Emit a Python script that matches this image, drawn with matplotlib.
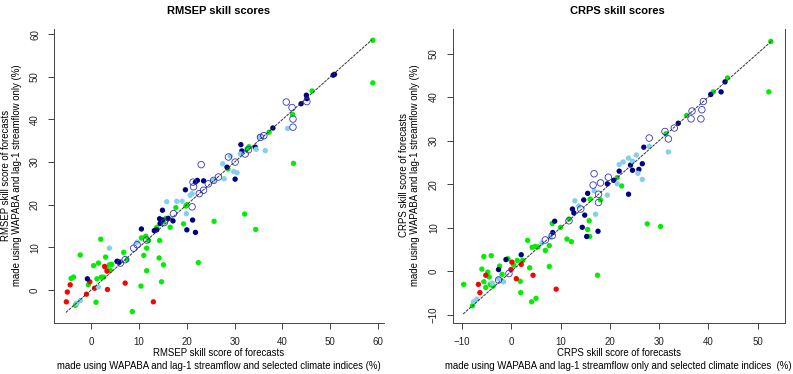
import matplotlib
matplotlib.use("Agg")
import matplotlib.pyplot as plt

plt.rcParams['font.family'] = ['Liberation Sans', 'DejaVu Sans']

# ---- RMSEP panel: (x = with climate indices, y = lag-1 streamflow only)
rm_green_x = [-4.2, -3.7, -2.3, 2.0, 0.5, 1.5, 3.0, 2.1, 2.6, 3.8, 4.3, 3.1, 1.0, -3.3, 8.6, 6.8,
              7.5, 10.4, 11.0, 11.6, 11.6, 14.2, 14.7, 15.1, 10.5, 11.4, 12.0, 14.3, 16.5, 19.3,
              17.7, 20.0, 25.7, 22.4, 32.1, 34.4, 42.3, 58.9, 58.9, 46.2, 42.1, 37.2, 33.0, 32.6,
              28.6, 19.8, 15.6, 15.1, 13.7, -0.6, 1.2, 4.0, -3.1]
rm_green_y = [2.7, 3.0, 8.2, 11.9, 5.7, 6.3, 7.7, 3.0, 3.0, 5.9, 6.0, 5.2, -2.9, -3.6, -5.1, 8.8,
              7.1, 0.9, 8.1, 9.8, 4.5, 7.5, 1.9, 5.9, 12.2, 12.6, 11.6, 11.6, 14.7, 15.5,
              19.3, 20.0, 16.1, 6.4, 17.8, 14.2, 29.7, 48.6, 58.6, 46.7, 41.2, 37.0, 33.6, 33.1,
              28.4, 19.7, 16.8, 16.0, 14.7, 1.2, 2.6, 4.6, -3.2]
rm_red_x = [-5.2, -5.0, -4.4, -0.3, -1.0, 0.7, 2.8, 3.3, 3.4, 5.5, 7.1, 13.0]
rm_red_y = [-2.8, -0.5, 1.2, 1.9, -1.0, 0.4, 5.5, 4.4, 0.1, 6.7, 1.6, -2.8]
rm_navy_x = [-0.8, 5.4, 5.8, 10.5, 13.2, 13.7, 14.9, 14.3, 14.9, 14.4, 16.1, 17.1, 19.7, 20.0,
             21.2, 21.8, 21.8, 22.2, 23.5, 28.4, 30.1, 31.3, 31.5, 38.0, 43.9, 45.0, 45.1, 50.6,
             50.9, 34.3]
rm_navy_y = [2.6, 6.7, 6.5, 14.3, 13.9, 14.1, 18.7, 16.7, 16.4, 15.6, 16.8, 16.2, 23.5, 14.1,
             16.4, 13.5, 25.3, 25.7, 25.6, 28.8, 26.0, 34.1, 32.6, 38.0, 43.7, 45.7, 44.9, 50.4,
             50.6, 33.5]
rm_lblue_x = [3.8, -3.0, -2.3, 1.5, 9.6, 15.8, 17.9, 19.0, 19.9, 20.7, 21.1, 27.5, 27.8, 29.8,
              30.5, 29.1, 35.2, 34.5, 36.4, 41.1, 25.6, 31.2]
rm_lblue_y = [9.8, -3.2, -2.5, 0.7, 11.2, 20.7, 20.8, 20.8, 17.9, 22.2, 22.6, 29.6, 26.1, 27.8,
              27.5, 31.4, 36.0, 33.0, 32.7, 37.9, 25.7, 31.9]
rm_open_x = [21.3, 23.0, 21.4, 22.6, 21.1, 23.5, 24.5, 25.6, 26.6, 28.7, 30.1, 35.4, 36.1, 40.8,
             42.0, 42.2, 42.2, 45.1, 8.9, 9.6, 7.1, 6.1, 11.6, 15.3, 17.2, 32.2, 32.9]
rm_open_y = [25.3, 29.4, 24.2, 22.6, 19.5, 23.4, 24.9, 25.7, 26.5, 31.2, 30.0, 35.8, 36.2, 44.1,
             42.8, 40.1, 38.2, 44.2, 9.8, 10.6, 7.1, 6.3, 11.7, 15.8, 17.9, 31.9, 32.9]

# ---- CRPS panel
cr_green_x = [-9.7, -7.9, -6.0, -5.6, -4.1, -4.8, -4.5, -5.6, -5.2, -4.3, -3.7, -2.4, -1.9, -0.7,
              1.8, 1.9, 3.3, 3.7, 4.1, 5.0, 6.9, 7.7, 7.7, 8.3, 11.3, 12.2, 15.5, 15.9, 15.8,
              17.5, 18.1, 22.4, 27.6, 30.3, 52.3, 52.7, 43.9, 41.0, 35.6, 31.4, 21.5, 16.0, 11.7,
              10.0, 4.2, 4.8, 5.4, 0.5, 1.2, 2.3]
cr_green_y = [-3.0, -7.9, 0.5, 3.4, 3.6, -0.2, -1.3, -2.4, -3.7, -3.0, -3.4, 1.2, -0.7, 2.9,
              -2.3, -4.9, 7.1, 0.8, -7.0, -6.2, 4.8, 5.9, 1.1, 11.0, 7.4, 6.8, 9.6, 8.0, 11.6,
              -0.9, 16.4, 19.6, 10.9, 10.3, 41.2, 52.8, 44.4, 41.2, 35.8, 31.6, 21.5, 16.6, 12.0,
              10.1, 5.5, 5.7, 5.6, 1.4, 2.5, 2.5]
cr_red_x = [-6.7, -6.4, -5.2, 0.1, -0.1, 1.0, 2.0, 4.4, 9.1]
cr_red_y = [-3.0, -4.9, -0.9, 2.1, 0.4, -1.7, 1.6, -0.9, -4.1]
cr_navy_x = [-2.6, -1.1, 2.0, 8.8, 8.4, 12.4, 12.7, 14.9, 14.4, 15.3, 17.6, 15.5, 14.7, 19.5,
             20.8, 21.9, 23.8, 24.2, 24.6, 26.6, 26.9, 33.9, 40.5, 42.6, 43.4, 25.9]
cr_navy_y = [0.4, 2.7, 3.8, 11.5, 8.9, 14.3, 13.4, 12.9, 10.1, 8.0, 9.2, 17.9, 16.4, 20.1,
             20.9, 23.0, 17.7, 24.4, 23.2, 24.7, 28.5, 34.0, 40.6, 41.2, 43.5, 23.4]
cr_lblue_x = [-7.7, -7.0, -3.9, -2.6, -1.6, 6.2, 7.9, 13.7, 17.1, 16.8, 19.5, 21.5, 21.9, 22.7,
              23.8, 25.4, 25.7, 26.6, 28.0, 31.9, 24.6, 12.9]
cr_lblue_y = [-7.0, -6.4, -2.7, -1.7, -2.4, 6.5, 7.8, 15.0, 13.1, 18.5, 17.5, 20.1, 24.5, 25.1,
              26.0, 26.7, 22.5, 21.1, 28.7, 27.4, 25.3, 16.2]
cr_open_x = [16.8, 18.1, 19.7, 16.6, 17.7, 17.7, 28.0, 31.2, 31.9, 36.5, 36.7, 38.5, 38.7, 39.0,
             33.1, 6.9, 8.3, 11.7, 14.1, -0.5, -2.6]
cr_open_y = [22.4, 20.3, 21.6, 19.8, 17.7, 15.8, 30.6, 32.1, 30.4, 35.0, 36.8, 35.0, 37.1, 39.0,
             32.9, 7.2, 8.2, 11.6, 14.3, -0.5, -2.0]

rm_line = [-5.3, 58.7]
cr_line = [-9.8, 53.0]


def draw(ax, gx, gy, rx, ry, nx, ny, lx, ly, ox, oy, line, lim, ticks):
    ax.scatter(gx, gy, s=15, color='#00EE00', edgecolors='none', zorder=2)
    ax.scatter(rx, ry, s=15, color='#FF0000', edgecolors='none', zorder=2)
    ax.scatter(nx, ny, s=15, color='#000080', edgecolors='none', zorder=3)
    ax.scatter(lx, ly, s=15, color='#87CEEB', edgecolors='none', zorder=3)
    ax.scatter(ox, oy, s=22, facecolors='none', edgecolors='#3333CC', linewidths=0.6, zorder=4)
    ax.plot(line, line, color='#333333', lw=0.7, ls=(0, (3, 1)), zorder=5)
    ax.set_xlim(lim)
    ax.set_ylim(lim)
    ax.set_xticks(ticks)
    ax.set_yticks(ticks)
    ax.tick_params(length=4, width=0.6, labelsize=7, pad=6, colors='#222222')
    for lab in ax.get_yticklabels():
        lab.set_rotation(90)
        lab.set_va('center')
    for s in ax.spines.values():
        s.set_linewidth(0.7)
        s.set_color('#444444')


fig = plt.figure(figsize=(7.93, 3.74), dpi=100)
ax1 = fig.add_axes([0.068, 0.136, 0.416, 0.786])
ax2 = fig.add_axes([0.571, 0.136, 0.419, 0.786])

draw(ax1, rm_green_x, rm_green_y, rm_red_x, rm_red_y, rm_navy_x, rm_navy_y,
     rm_lblue_x, rm_lblue_y, rm_open_x, rm_open_y, rm_line, (-7.8, 61.2), range(0, 61, 10))
ax1.spines['top'].set_visible(False)
ax1.spines['right'].set_visible(False)

draw(ax2, cr_green_x, cr_green_y, cr_red_x, cr_red_y, cr_navy_x, cr_navy_y,
     cr_lblue_x, cr_lblue_y, cr_open_x, cr_open_y, cr_line, (-11.9, 55.6), range(-10, 51, 10))
ax2.spines['top'].set_visible(False)

fs = 6.9
fig.text(0.276, 0.985, 'RMSEP skill scores', ha='center', va='top', fontsize=8, fontweight='bold')
fig.text(0.779, 0.985, 'CRPS skill scores', ha='center', va='top', fontsize=8, fontweight='bold')

fig.text(0.276, 0.056, 'RMSEP skill score of forecasts', ha='center', va='center', fontsize=fs)
fig.text(0.276, 0.021, 'made using WAPABA and lag-1 streamflow and selected climate indices (%)',
         ha='center', va='center', fontsize=fs)
fig.text(0.008, 0.532, 'RMSEP skill score of forecasts', rotation=90, ha='center', va='center', fontsize=fs)
fig.text(0.022, 0.532, 'made using WAPABA and lag-1 streamflow only (%)', rotation=90,
         ha='center', va='center', fontsize=fs)

fig.text(0.780, 0.056, 'CRPS skill score of forecasts', ha='center', va='center', fontsize=fs)
fig.text(0.780, 0.021, 'made using WAPABA and lag-1 streamflow only and selected climate indices  (%)',
         ha='center', va='center', fontsize=fs)
fig.text(0.509, 0.532, 'CRPS skill score of forecasts', rotation=90, ha='center', va='center', fontsize=fs)
fig.text(0.523, 0.532, 'made using WAPABA and lag-1 streamflow only (%)', rotation=90,
         ha='center', va='center', fontsize=fs)

fig.savefig('out.png', dpi=100)
